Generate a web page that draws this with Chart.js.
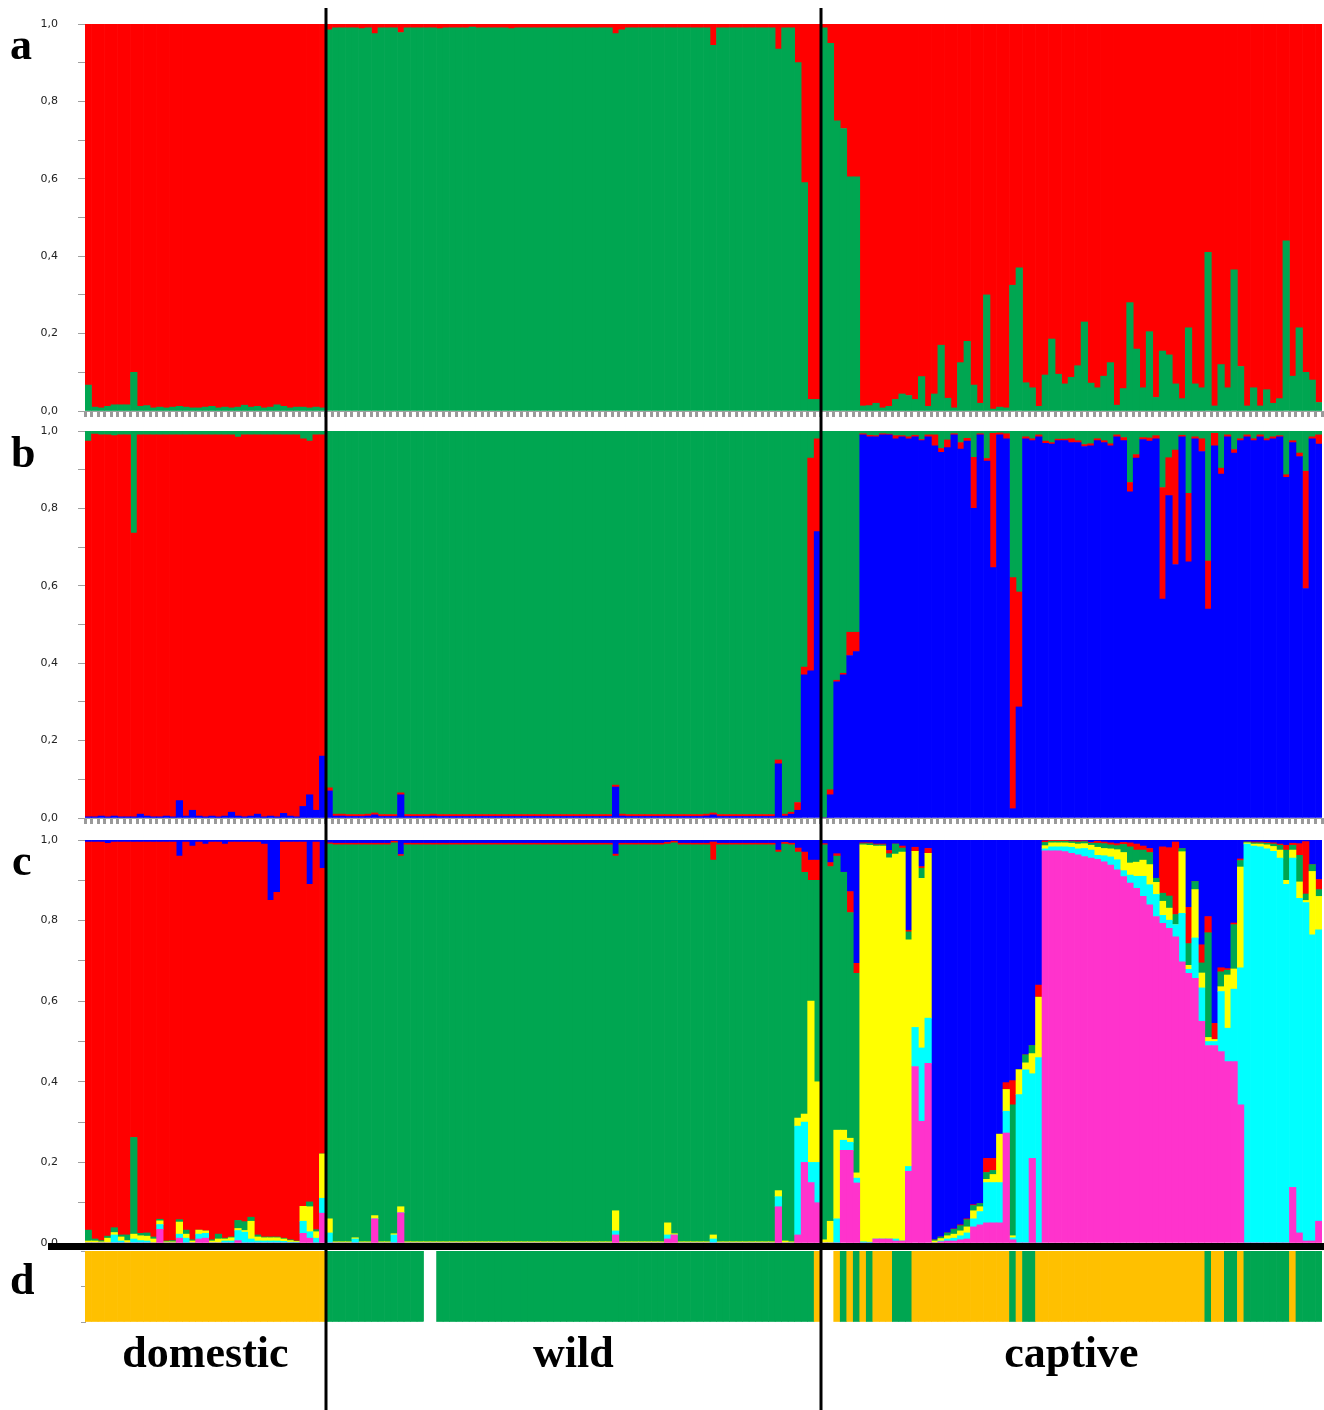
<!DOCTYPE html>
<html>
<head>
<meta charset="utf-8">
<script src="https://cdn.jsdelivr.net/npm/chart.js@4.4.1/dist/chart.umd.min.js"></script>
<style>
  html, body { margin: 0; padding: 0; background: #fff; }
  #wrap { position: relative; width: 1324px; height: 1410px; overflow: hidden; background: #fff; }
  canvas { position: absolute; left: 0; }
  .letter { position: absolute; font: bold 44px "Liberation Serif", "DejaVu Serif", serif; line-height: 44px; color: #000; }
</style>
</head>
<body>
<div id="wrap">
  <canvas id="chartA" width="1324" height="420" style="top:0px"></canvas>
  <canvas id="chartB" width="1324" height="406" style="top:420px"></canvas>
  <canvas id="chartC" width="1324" height="424" style="top:826px"></canvas>
  <canvas id="chartD" width="1324" height="160" style="top:1250px"></canvas>
  <div class="letter" style="left:10px; top:23px">a</div>
  <div class="letter" style="left:11px; top:431px">b</div>
  <div class="letter" style="left:12px; top:839px">c</div>
  <div class="letter" style="left:10px; top:1258px">d</div>
</div>
<script>
// groups of individuals (domestic | wild | captive)
const groupNames = ['domestic', 'wild', 'captive'];
const groupSizes = [37, 76, 77];
const individuals = Array.from({ length: 190 }, (_, i) => 'ind' + (i + 1));

const cat = (...parts) => [].concat(...parts);

// ---- panel a: K=2, green share (red fills the rest) ----
const aGreen = cat(
  [.067,.010,.008,.012,.016,.016,.016,.100,.012,.014, .008,.010,.008,.010,.012,.010,.008,.008,.010,.012,
   .008,.010,.008,.010,.015,.010,.012,.008,.010,.016, .012,.008,.010,.010,.008,.010,.008],
  [.985,.990,.990,.990,.990,.988,.990,.975,.990,.990, .990,.978,.990,.990,.990,.990,.990,.988,.990,.990,
   .990,.990,.992,.990,.990,.990,.990,.990,.988,.990, .990,.990,.990,.990,.990,.990,.990,.990,.990,.990,
   .990,.990,.990,.990,.975,.985,.990,.990,.990,.990, .990,.990,.990,.990,.990,.990,.990,.990,.990,.945,
   .990,.990,.990,.990,.990,.990,.990,.990,.990,.935, .990,.990,.900,.590,.030,.030],
  [.990,.950,.750,.730,.605,.605,.013,.014,.020,.008, .012,.030,.044,.040,.030,.089,.012,.044,.170,.033,
   .008,.125,.180,.067,.020,.300,.005,.010,.008,.325, .370,.073,.060,.012,.093,.186,.095,.070,.087,.117,
   .230,.072,.060,.090,.125,.015,.058,.280,.160,.060, .205,.035,.155,.145,.070,.032,.215,.070,.060,.410,
   .013,.120,.060,.365,.115,.013,.060,.013,.055,.020, .032,.440,.090,.215,.100,.080,.022]
);

// ---- panel b: K=3, blue (bottom), red, green fills the rest ----
const bBlue = cat(
  [.003,.003,.005,.003,.005,.003,.003,.003,.010,.005, .003,.003,.005,.003,.045,.005,.020,.005,.003,.005,
   .003,.005,.015,.005,.003,.005,.010,.003,.005,.003, .012,.005,.003,.030,.060,.020,.160],
  [.070,.005,.005,.004,.004,.004,.005,.008,.004,.004, .004,.060,.004,.004,.004,.004,.005,.004,.004,.004,
   .004,.004,.004,.004,.004,.004,.004,.004,.004,.004, .004,.004,.004,.004,.004,.004,.004,.004,.004,.004,
   .004,.004,.004,.004,.080,.005,.004,.004,.004,.004, .004,.004,.004,.004,.004,.004,.004,.004,.005,.008,
   .004,.004,.004,.004,.004,.004,.004,.004,.004,.140, .005,.010,.020,.370,.380,.740],
  [0,.060,.352,.370,.420,.430,.990,.985,.985,.990, .990,.980,.985,.980,.985,.975,.985,.962,.945,.957,
   .990,.953,.974,.800,.990,.922,.647,.990,.980,.024, .287,.980,.975,.985,.968,.966,.975,.975,.970,.970,
   .960,.962,.975,.970,.962,.985,.975,.843,.930,.978, .974,.980,.566,.833,.655,.985,.662,.980,.947,.540,
   .962,.889,.985,.943,.975,.985,.975,.985,.975,.980, .985,.880,.970,.934,.593,.980,.966]
);
const bRed = cat(
  [.971,.989,.985,.987,.983,.987,.987,.733,.980,.985, .987,.987,.985,.987,.945,.985,.970,.985,.987,.985,
   .987,.985,.975,.979,.987,.985,.980,.987,.985,.987, .978,.985,.987,.950,.914,.970,.830],
  [.008,.005,.005,.005,.005,.005,.005,.005,.005,.005, .005,.005,.005,.005,.005,.005,.005,.005,.005,.005,
   .005,.005,.005,.005,.005,.005,.005,.005,.005,.005, .005,.005,.005,.005,.005,.005,.005,.005,.005,.005,
   .005,.005,.005,.005,.005,.005,.005,.005,.005,.005, .005,.005,.005,.005,.005,.005,.005,.005,.005,.005,
   .005,.005,.005,.005,.005,.005,.005,.005,.005,.010, .005,.005,.020,.020,.550,.240],
  [0,.013,.004,.004,.060,.050,.003,.004,.003,.003, .002,.008,.003,.005,.004,.003,.005,.028,.010,.020,
   .003,.017,.007,.132,.003,.007,.347,.005,.013,.597, .297,.005,.005,.005,.006,.004,.004,.004,.010,.005,
   .005,.005,.005,.005,.005,.005,.008,.024,.009,.005, .008,.008,.288,.098,.296,.004,.177,.005,.033,.124,
   .032,.015,.005,.009,.005,.005,.005,.005,.005,.005, .003,.007,.005,.009,.303,.005,.024]
);

// ---- panel c: K=6, magenta, cyan, yellow, green, red (bottom to top), blue fills the rest ----
const cMagenta = cat(
  [0,0,0,0,0,0,0,0,0,0, 0,.034,0,0,.012,0,0,.010,.012,0, 0,0,0,.006,0,0,0,0,0,0, 0,0,0,.024,.012,0,.074],
  [0,0,0,0,0,0,0,.060,0,0, 0,.075,0,0,0,0,0,0,0,0, 0,0,0,0,0,0,0,0,0,0, 0,0,0,0,0,0,0,0,0,0,
   0,0,0,0,.020,0,0,0,0,0, 0,0,.010,.020,0,0,0,0,0,0, 0,0,0,0,0,0,0,0,0,.090, 0,0,.020,.200,.150,.100],
  [0,0,0,.230,.230,.149,0,0,.010,.010, .010,.005,.005,.178,.438,.302,.446,0,.003,.005,
   .005,.008,.010,.040,.045,.050,.050,.050,.273,.008, 0,0,.210,0,.973,.973,.973,.971,.967,.963,
   .959,.955,.952,.946,.938,.926,.909,.893,.880,.860, .839,.810,.793,.781,.760,.698,.669,.657,.550,.490,
   .490,.475,.450,.450,.343,0,0,0,0,0, 0,0,.138,.025,.005,.005,.054]
);
const cCyan = cat(
  [0,0,0,0,.020,.005,0,.010,.006,.005, 0,.012,0,0,.010,.012,0,.012,.012,0, 0,.005,.005,.025,.027,.010,.005,.005,.005,.005,
   .004,.002,.002,.030,.016,.012,.037],
  [.025,0,0,0,.010,0,0,0,0,0, .020,0,0,0,0,0,0,0,0,0, 0,0,0,0,0,0,0,0,0,0, 0,0,0,0,0,0,0,0,0,0,
   0,0,0,0,.010,0,0,0,0,0, 0,0,.010,0,0,0,0,0,0,.010, 0,0,0,0,0,0,0,0,0,.025, 0,0,.270,.100,.050,.100],
  [0,0,.060,.025,.020,.012,.003,.002,0,0, 0,.005,0,.012,.097,.182,.112,0,.002,.005,
   .007,.010,.015,.020,.033,.100,.100,.100,.054,.005, .368,.430,.210,.460,.005,.010,.010,.012,.015,.015,
   .020,.020,.010,.015,.020,.025,.015,.020,.030,.050, .050,.055,.020,.020,.030,.120,.010,.100,.083,.010,
   .010,.149,.083,.180,.340,.990,.985,.983,.978,.972, .955,.890,.817,.830,.840,.760,.723]
);
const cYellow = cat(
  [.005,.005,.003,.012,.006,.010,.006,.012,.012,.012, .010,.009,.003,.003,.030,.010,.005,.010,.006,.005,
   .010,.005,.008,.005,.004,.044,.010,.008,.008,.008, .006,.004,.002,.037,.062,.016,.110],
  [.035,.003,.003,.003,.003,.003,.003,.008,.003,.003, .003,.015,.003,.003,.003,.003,.003,.003,.003,.003,
   .003,.003,.003,.003,.003,.003,.003,.003,.003,.003, .003,.003,.003,.003,.003,.003,.003,.003,.003,.003,
   .003,.003,.003,.003,.050,.003,.003,.003,.003,.003, .003,.003,.030,.003,.003,.003,.003,.003,.003,.010,
   .003,.003,.003,.003,.003,.003,.003,.003,.003,.015, .005,.003,.020,.020,.400,.200],
  [.008,.054,.220,.025,.010,.013,.985,.985,.975,.975, .946,.955,.965,.562,.437,.421,.409,.005,.006,.008,
   .010,.012,.015,.020,.012,.008,.020,.120,.054,.005, .062,.017,.050,.150,.008,.010,.010,.010,.010,.012,
   .012,.012,.020,.018,.020,.025,.045,.030,.035,.040, .050,.030,.035,.030,0,.153,.010,.120,.037,.010,
   .005,.012,.132,.050,.250,.003,.005,.007,.010,.012, .020,.010,.020,.041,.005,.157,.083]
);
const cGreen = cat(
  [.027,.005,.003,.005,.012,.005,.014,.240,.006,.008, .005,.004,.002,.003,.006,.010,.003,0,0,.003,
   .012,.002,.002,.020,.022,.010,.005,.002,.002,.002, .002,.002,.001,0,.012,.005,0],
  [.930,.985,.985,.985,.975,.985,.985,.920,.985,.985, .970,.870,.985,.985,.985,.985,.985,.985,.985,.985,
   .985,.985,.985,.985,.985,.985,.985,.985,.985,.985, .985,.985,.985,.985,.985,.985,.985,.985,.985,.985,
   .985,.985,.985,.985,.880,.985,.985,.985,.985,.985, .985,.985,.940,.970,.985,.985,.985,.985,.985,.930,
   .985,.985,.985,.985,.985,.985,.985,.985,.985,.840, .985,.985,.660,.600,.300,.500],
  [.980,.880,.680,.640,.560,.495,.003,.004,.003,.003, .010,.025,.010,.020,0,.025,0,.003,.004,.007,
   .012,.013,.018,.013,.008,.017,.010,0,0,.325, 0,.020,.020,0,.008,.004,.004,.004,.004,.005,
   .005,.005,.010,.012,.010,.010,.020,.040,.030,.025, .030,.010,.020,.030,.025,.008,.054,.020,.025,.260,
   0,.037,.012,.110,.016,.002,.003,.003,.004,.006, .012,.075,.012,.066,.016,.017,.017]
);
const cRed = cat(
  [.963,.985,.989,.975,.957,.975,.975,.733,.971,.970, .980,.936,.990,.989,.902,.963,.977,.963,.960,.987,
   .973,.978,.980,.939,.942,.931,.975,.975,.835,.855, .983,.987,.990,.904,.788,.962,.709],
  [.003,.004,.004,.004,.004,.004,.004,.004,.004,.004, .004,.004,.004,.004,.004,.004,.004,.004,.004,.004,
   .004,.004,.004,.004,.004,.004,.004,.004,.004,.004, .004,.004,.004,.004,.004,.004,.004,.004,.004,.004,
   .004,.004,.004,.004,.005,.004,.004,.004,.004,.004, .004,.004,.004,.004,.004,.004,.004,.004,.004,.045,
   .004,.004,.004,.004,.004,.004,.004,.004,.004,.005, .004,.004,.010,.050,.050,.050],
  [.003,.010,.006,0,.052,.025,.002,.002,.002,.002, .008,0,.005,.004,.010,.004,.012,0,0,0,
   .001,.002,.002,.002,0,.035,.030,0,.017,.060, 0,0,0,.030,.004,.002,.002,.002,.002,.003,
   .002,.002,.005,.004,.005,.005,.005,.010,.015,.010, .010,0,.115,.120,.180,0,.090,0,.045,.040,
   .040,.010,.004,.004,.004,0,.002,.002,.002,.003, .003,.012,.005,.029,.130,0,.025]
);

// ---- panel d: origin of each individual (1 = domestic stock, 2 = wild stock, 0 = no data) ----
const dOrigin = cat(
  [1,1,1,1,1,1,1,1,1,1, 1,1,1,1,1,1,1,1,1,1, 1,1,1,1,1,1,1,1,1,1, 1,1,1,1,1,1,1],
  [2,2,2,2,2,2,2,2,2,2, 2,2,2,2,2,0,0,2,2,2, 2,2,2,2,2,2,2,2,2,2, 2,2,2,2,2,2,2,2,2,2,
   2,2,2,2,2,2,2,2,2,2, 2,2,2,2,2,2,2,2,2,2, 2,2,2,2,2,2,2,2,2,2, 2,2,2,2,2,1],
  [0,0,1,2,1,2,1,2,1,1, 1,2,2,2,1,1,1,1,1,1, 1,1,1,1,1,1,1,1,1,2, 1,2,2,1,1,1,1,1,1,1,
   1,1,1,1,1,1,1,1,1,1, 1,1,1,1,1,1,1,1,1,2, 1,1,2,2,1,2,2,2,2,2, 2,2,1,2,2,2,2]
);

const RED = '#FF0000', GREEN = '#00A651', BLUE = '#0000FF', YELLOW = '#FFFF00',
      CYAN = '#00FFFF', MAGENTA = '#FF33CC', ORANGE = '#FFC000';

// remaining share so each individual sums to 1
const rest = (...arrs) => arrs[0].map((_, i) => Math.max(0, 1 - arrs.reduce((s, a) => s + a[i], 0)));

function ds(data, color) {
  return { data, backgroundColor: color, borderWidth: 0, barPercentage: 1, categoryPercentage: 1 };
}

// black separators between the three groups + optional base line / labels
const decor = {
  id: 'decor',
  afterDraw(chart, args, opts) {
    const { ctx, chartArea } = chart;
    const x = chart.scales.x;
    ctx.save();
    if (opts.baseLine) {
      ctx.fillStyle = '#000';
      ctx.fillRect(48, chartArea.bottom, chart.width - 48, 7);
    }
    ctx.strokeStyle = '#000';
    ctx.lineWidth = 3;
    let n = 0;
    groupSizes.slice(0, -1).forEach(size => {
      n += size;
      const px = Math.round((x.getPixelForValue(n - 1) + x.getPixelForValue(n)) / 2);
      ctx.beginPath();
      ctx.moveTo(px, opts.top || 0);
      ctx.lineTo(px, chart.height);
      ctx.stroke();
    });
    if (opts.groupLabels) {
      ctx.fillStyle = '#000';
      ctx.font = 'bold 44px "Liberation Serif", "DejaVu Serif", serif';
      ctx.textAlign = 'center';
      ctx.textBaseline = 'alphabetic';
      let start = 0;
      groupSizes.forEach((size, g) => {
        const x0 = x.getPixelForValue(start), x1 = x.getPixelForValue(start + size - 1);
        ctx.fillText(groupNames[g], (x0 + x1) / 2, opts.labelY);
        start += size;
      });
    }
    ctx.restore();
  }
};

function yAxis() {
  return {
    min: 0, max: 1, stacked: true,
    afterFit(scale) { scale.width = 85; scale.paddingTop = 0; scale.paddingBottom = 0; },
    border: { display: false },
    grid: { drawOnChartArea: false, drawTicks: true, tickLength: 7, color: '#a0a0a0', lineWidth: 1 },
    ticks: {
      stepSize: 0.1, padding: 20, color: '#222',
      font: { family: 'DejaVu Sans', size: 11 },
      callback: (v, i) => (i % 2 === 0 ? Number(v).toFixed(1).replace('.', ',') : '')
    }
  };
}

function xAxis(showTicks) {
  return {
    stacked: true,
    display: showTicks,
    ticks: { display: false },
    grid: { offset: true, drawOnChartArea: false, drawTicks: true, tickLength: 6, color: '#9a9a9a', lineWidth: 3 },
    border: { display: true, color: '#a0a0a0', width: 1 }
  };
}

function makeChart(id, datasets, padding, xTicks, decorOpts) {
  return new Chart(document.getElementById(id), {
    type: 'bar',
    data: { labels: individuals, datasets },
    options: {
      responsive: false, animation: false, devicePixelRatio: 1, events: [],
      layout: { padding },
      scales: { x: xAxis(xTicks), y: yAxis() },
      plugins: { legend: { display: false }, tooltip: { enabled: false }, decor: decorOpts }
    },
    plugins: [decor]
  });
}

makeChart('chartA', [ds(aGreen, GREEN), ds(rest(aGreen), RED)],
  { top: 24, bottom: 3, left: 0, right: 2 }, true, { top: 8 });

makeChart('chartB', [ds(bBlue, BLUE), ds(bRed, RED), ds(rest(bBlue, bRed), GREEN)],
  { top: 11, bottom: 2, left: 0, right: 2 }, true, {});

makeChart('chartC', [ds(cMagenta, MAGENTA), ds(cCyan, CYAN), ds(cYellow, YELLOW), ds(cGreen, GREEN),
  ds(cRed, RED), ds(rest(cMagenta, cCyan, cYellow, cGreen, cRed), BLUE)],
  { top: 14, bottom: 7, left: 0, right: 2 }, false, { baseLine: true });

// panel d: one full-height cell per individual, coloured by origin
new Chart(document.getElementById('chartD'), {
  type: 'bar',
  data: {
    labels: individuals,
    datasets: [{
      data: dOrigin.map(v => (v ? 1 : 0)),
      backgroundColor: dOrigin.map(v => (v === 1 ? ORANGE : v === 2 ? GREEN : '#ffffff')),
      borderWidth: 0, barPercentage: 1, categoryPercentage: 1
    }]
  },
  options: {
    responsive: false, animation: false, devicePixelRatio: 1, events: [],
    layout: { padding: { top: 1, bottom: 88, left: 0, right: 2 } },
    scales: {
      x: { display: false, stacked: true },
      y: {
        min: 0, max: 1,
        afterFit(scale) { scale.width = 85; },
        border: { display: true, color: '#a0a0a0' },
        grid: { drawOnChartArea: false, drawTicks: true, tickLength: 4, color: '#a0a0a0' },
        ticks: { display: false, stepSize: 0.5 }
      }
    },
    plugins: { legend: { display: false }, tooltip: { enabled: false },
      decor: { groupLabels: true, labelY: 117 } }
  },
  plugins: [decor]
});
</script>
</body>
</html>
